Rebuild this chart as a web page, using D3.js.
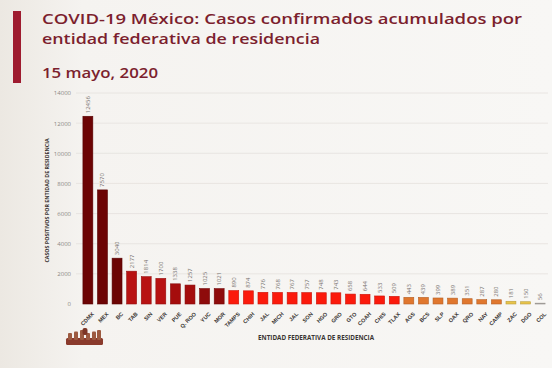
<!DOCTYPE html>
<html><head><meta charset="utf-8">
<script src="https://cdn.jsdelivr.net/npm/d3@7/dist/d3.min.js"></script>
<style>body{margin:0;background:#f6f4f1;}svg{display:block;font-family:"Open Sans",sans-serif;}</style>
</head><body>
<svg id="c" width="552" height="368"></svg>
<script>
const states = ["CDMX","MEX","BC","TAB","SIN","VER","PUE","Q. ROO","YUC","MOR","TAMPS","CHIH","JAL","MICH","JAL ","SON","HGO","GRO","GTO","COAH","CHIS","TLAX","AGS","BCS","SLP","OAX","QRO","NAY","CAMP","ZAC","DGO","COL"];
const cases = [12456,7570,3040,2177,1814,1700,1338,1257,1025,1021,890,874,776,768,767,757,748,743,658,644,533,509,443,439,399,389,351,287,280,181,150,56];
const yTicks = [0,2000,4000,6000,8000,10000,12000,14000];
const title1 = "COVID-19 México: Casos confirmados acumulados por";
const title2 = "entidad federativa de residencia";
const dateText = "15 mayo, 2020";
const yTitle = "CASOS POSITIVOS POR ENTIDAD DE RESIDENCIA";
const xTitle = "ENTIDAD FEDERATIVA DE RESIDENCIA";

const svg = d3.select("#c");
const m = {l:80, r:4, t:93, b:64};
const W = 552, H = 368;
const x = d3.scaleBand().domain(d3.range(states.length)).range([m.l, W - m.r]).paddingInner(0.32).paddingOuter(0.2);
const y = d3.scaleLinear().domain([0,14000]).range([H - m.b, m.t]);
const color = d3.scaleThreshold().domain([100,200,500,1000,1100,1500,2500])
  .range(["#b9b4ae","#e8c44a","#e0772e","#fb1a0c","#8e0b0b","#a50d0d","#b81212","#6c0404"]);

// background
const defs = svg.append("defs");
const lg = defs.append("linearGradient").attr("id","bgg").attr("x1",0).attr("x2",1).attr("y1",0).attr("y2",0);
lg.append("stop").attr("offset","0%").attr("stop-color","#ece8e2");
lg.append("stop").attr("offset","15%").attr("stop-color","#f5f3f0");
lg.append("stop").attr("offset","100%").attr("stop-color","#f8f7f5");
svg.append("rect").attr("x",0).attr("y",0).attr("width",W).attr("height",H).attr("fill","url(#bgg)");

// header
svg.append("rect").attr("x",13).attr("y",11).attr("width",8).attr("height",72).attr("fill","#9e1b2f");
const tStyle = s => s.attr("font-size",14.5).attr("font-weight",600).attr("fill","#7c1f2e").attr("lengthAdjust","spacingAndGlyphs");
tStyle(svg.append("text").attr("x",42).attr("y",24).attr("textLength",480).text(title1));
tStyle(svg.append("text").attr("x",42).attr("y",44).attr("textLength",278).text(title2));
tStyle(svg.append("text").attr("x",42).attr("y",78).attr("textLength",116).text(dateText));

// grid
svg.append("g").selectAll("line").data(yTicks.filter(d=>d>0)).join("line")
  .attr("x1",m.l-4).attr("x2",W-4).attr("y1",d=>y(d)).attr("y2",d=>y(d))
  .attr("stroke","#e4e1dd").attr("stroke-width",0.8);

// y axis
const ya = svg.append("g").attr("transform",`translate(${m.l-6},0)`)
  .call(d3.axisLeft(y).tickValues(yTicks).tickSize(0).tickFormat(d3.format("d")));
ya.select(".domain").remove();
ya.selectAll("text").attr("font-size",6).attr("fill","#8a8784").attr("font-family","Open Sans, sans-serif");

svg.append("text").attr("transform",`translate(49,${(y(0)+y(14000))/2+2}) rotate(-90)`)
  .attr("text-anchor","middle").attr("font-size",5.3).attr("font-weight",700).attr("fill","#3a3533").text(yTitle);

// bars
const bars = svg.append("g");
bars.selectAll("rect").data(cases).join("rect")
  .attr("x",(d,i)=>x(i)).attr("width",x.bandwidth())
  .attr("y",d=>y(d)).attr("height",d=>y(0)-y(d))
  .attr("fill",d=>color(d)).attr("stroke",d=>d3.color(color(d)).darker(0.6)).attr("stroke-width",0.6);

// value labels
bars.selectAll("text").data(cases).join("text")
  .attr("transform",(d,i)=>`translate(${x(i)+x.bandwidth()/2+2},${y(d)-3}) rotate(-90)`)
  .attr("font-size",6).attr("fill","#77726e").text(d=>d);

// x axis labels
const xa = svg.append("g").attr("transform",`translate(0,${y(0)+4})`)
  .call(d3.axisBottom(x).tickSize(0).tickFormat(i=>states[i].trim()));
xa.select(".domain").remove();
xa.selectAll("text").attr("font-size",5.5).attr("font-weight",700).attr("fill","#3a3533")
  .attr("text-anchor","end").attr("dy","0.35em").attr("transform","translate(3,3) rotate(-45)");

svg.append("text").attr("x",316).attr("y",340).attr("text-anchor","middle")
  .attr("font-size",6.3).attr("font-weight",700).attr("fill","#3a3533").text(xTitle);

// decorative emblem at bottom left
const emb = svg.append("g");
emb.append("rect").attr("x",66).attr("y",338).attr("width",37).attr("height",7).attr("rx",1.5).attr("fill","#8a3a2c");
[70,76,82,88,94,99].forEach((cx,k)=>{
  emb.append("rect").attr("x",cx-2).attr("y",333-(k%3)*1.5).attr("width",4).attr("height",7+(k%3)*1.5).attr("rx",1).attr("fill","#9c5a40");
});
emb.append("rect").attr("x",82.5).attr("y",328).attr("width",5).attr("height",7).attr("rx",2).attr("fill","#7d3626");
</script>
</body></html>
